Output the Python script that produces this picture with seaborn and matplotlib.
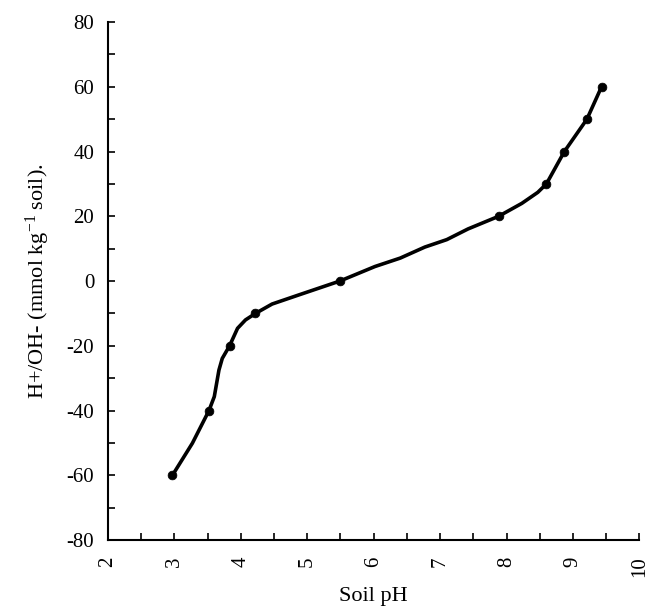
# libraries
import matplotlib.pyplot as plt
import matplotlib.ticker as mticker
import seaborn as sns
import pandas as pd

# measured points (markers)
ph_points = [2.97, 3.52, 3.83, 4.22, 5.49, 7.88, 8.60, 8.87, 9.21, 9.43]
h_oh_points = [-60, -40, -20, -10, 0, 20, 30, 40, 50, 60]

# curve
curve_ph = [2.97, 3.27, 3.52, 3.60, 3.67, 3.72, 3.83, 3.95, 4.07, 4.22, 4.47,
            4.87, 5.49, 6.02, 6.40, 6.77, 7.10, 7.42, 7.88, 8.23, 8.47, 8.60,
            8.87, 9.21, 9.43]
curve_val = [-60, -50.1, -40, -35.7, -27.5, -23.9, -20, -14.6, -12, -10, -7.1,
             -4.3, 0, 4.5, 7.1, 10.5, 12.8, 16.1, 20, 24, 27.4, 30, 40, 50, 60]

points = pd.DataFrame({'ph': ph_points, 'val': h_oh_points})
curve = pd.DataFrame({'ph': curve_ph, 'val': curve_val})

sns.set_style("ticks")
plt.rcParams['font.family'] = ['Liberation Serif', 'DejaVu Serif']
plt.rcParams['mathtext.default'] = 'regular'
plt.rcParams['axes.unicode_minus'] = False

fig = plt.figure(figsize=(6.48, 6.14), dpi=100)
ax = fig.add_axes([0.1667, 0.1205, 0.82, 0.8435])

# curve + markers
sns.lineplot(x='ph', y='val', data=curve, sort=False, color='black',
             linewidth=2.6, ax=ax)
sns.scatterplot(x='ph', y='val', data=points, color='black', s=40,
                edgecolor='black', zorder=3, ax=ax)

ax.set_xlim(2, 10)
ax.set_ylim(-80, 80)
ax.xaxis.set_major_locator(mticker.MultipleLocator(1))
ax.xaxis.set_minor_locator(mticker.MultipleLocator(0.5))
ax.yaxis.set_major_locator(mticker.MultipleLocator(20))
ax.yaxis.set_minor_locator(mticker.MultipleLocator(10))
ax.tick_params(which='both', direction='in', length=5, width=1.2,
               color='black', labelsize=15, labelcolor='black')
ax.tick_params(axis='x', labelrotation=90, pad=12)
ax.tick_params(axis='y', pad=10)

sns.despine(ax=ax)
for sp in ['left', 'bottom']:
    ax.spines[sp].set_linewidth(1.5)
    ax.spines[sp].set_color('black')

ax.set_xlabel('Soil pH', fontsize=16, labelpad=7, color='black')
ax.set_ylabel(r'H+/OH- (mmol kg$^{-1}$ soil).', fontsize=16, labelpad=10,
              color='black')

plt.savefig('out.png', dpi=100)
